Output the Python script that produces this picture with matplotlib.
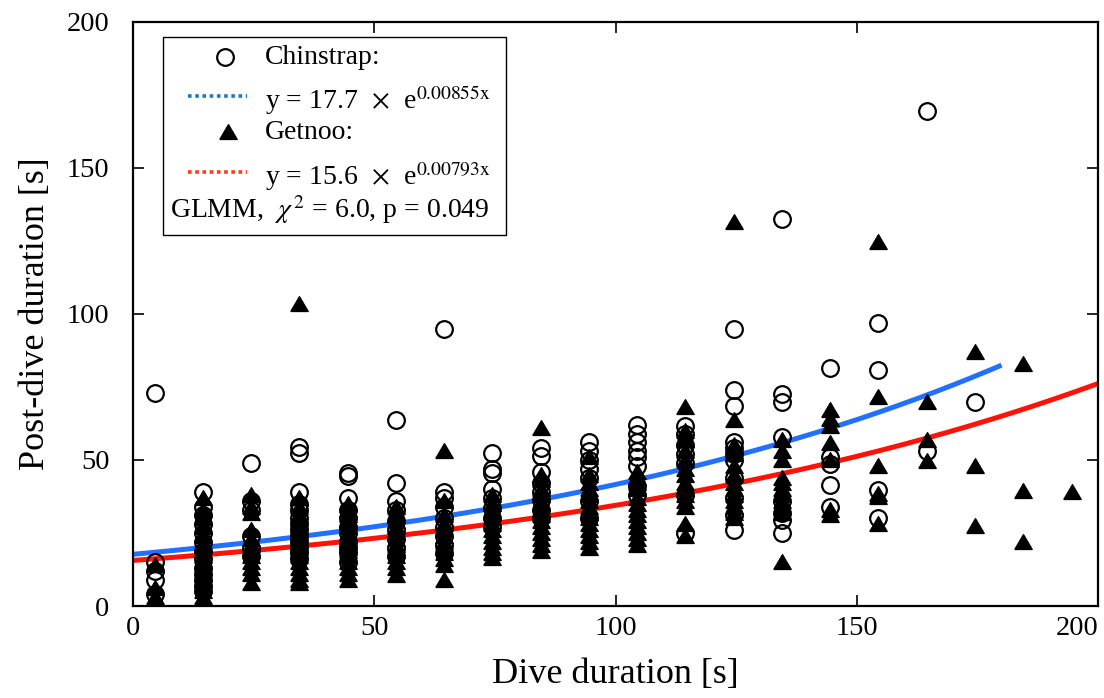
import matplotlib.pyplot as plt
import numpy as np

plt.rcParams['font.family'] = ['Liberation Serif', 'DejaVu Serif']
plt.rcParams['mathtext.fontset'] = 'stix'

# bin centres of dive duration [s]
bin_x = [4.5, 14.5, 24.5, 34.5, 44.5, 54.5, 64.5, 74.5, 84.5, 94.5,
         104.5, 114.5, 124.5, 134.5, 144.5, 154.5, 164.5, 174.5, 184.5, 194.5]

# post-dive durations [s] per bin
chin_y = [
    [73, 15, 12, 9, 4],
    [39, 34, 31, 28, 25, 22, 19, 16, 13, 11, 9, 7, 5],
    [49, 36, 33, 24, 20, 17],
    [54.5, 52.5, 39, 35, 33, 30, 28, 26, 24, 22, 20, 18, 16],
    [45.5, 44.5, 37, 33, 30, 27, 25, 22, 20, 18, 15],
    [63.7, 42, 36, 33, 29, 26, 23, 20, 17],
    [95, 39, 37, 34, 30, 27, 24, 21, 18],
    [52.4, 47, 45.5, 40, 37, 33.5, 30, 27],
    [54, 51.5, 46, 42, 39, 36.3, 33, 30],
    [56, 53, 50, 47, 44, 36, 30],
    [62, 59, 56, 53, 51, 48, 41, 38],
    [61.5, 59, 55, 52, 49, 38, 25],
    [95, 74, 68.5, 56, 54, 52, 50, 44, 37, 31, 26],
    [132.5, 72.5, 70, 58, 36, 32, 29.5, 25],
    [81.5, 51, 48.5, 41.5, 34],
    [97, 80.8, 39.7, 30],
    [169.6, 53],
    [70],
    [],
    [],
]
getnoo_y = [
    [14, 6, 3, 1],
    [37, 33, 30, 27, 24, 21, 19, 17, 15, 13, 11, 9, 7, 5, 3, 1.5],
    [38, 34, 32, 26, 23, 21, 19, 17, 15, 13, 11, 8],
    [103.5, 37, 34, 31, 29, 27, 25, 23, 21, 19, 17, 15, 13, 11, 9, 8],
    [35, 33, 31, 29, 27, 25, 23, 21, 19, 17, 15, 13, 11, 9],
    [34, 31, 29, 27, 25, 23, 21, 19, 17, 15, 13, 10.5],
    [53, 36, 31, 28, 26, 24, 22, 20, 18, 16, 14, 9],
    [38, 35, 32, 30, 28, 26, 24, 22, 20, 18, 16.5],
    [61, 45, 43, 40, 38, 35, 33, 31, 29, 27, 25, 23, 21, 19],
    [51, 45, 42, 40, 38, 36, 34, 32, 30, 28, 26, 24, 22, 20],
    [46, 44, 42, 40, 37, 35, 33, 31, 29, 27, 25, 23, 21],
    [68, 60, 57, 53, 50, 47, 45, 42, 40, 38, 36, 34, 28, 24],
    [131.5, 63.7, 55, 52, 48, 45, 42, 40, 38, 36, 34, 32, 30],
    [57, 53, 50, 44, 42, 40, 38, 36, 34, 32, 15],
    [67, 64, 61.5, 55.8, 50, 33, 31],
    [124.5, 71.5, 48, 38.5, 37.5, 28],
    [70, 57, 49.5],
    [87, 48, 27.5],
    [83, 39.5, 22],
    [39],
]

# fitted models from the figure
chin_a, chin_b, chin_xmax = 17.7, 0.00855, 180
getnoo_a, getnoo_b, getnoo_xmax = 15.6, 0.00793, 200

ticks = [0, 50, 100, 150, 200]

tri = [(-1, -0.8), (1, -0.8), (0, 0.9), (-1, -0.8)]

fig = plt.figure(figsize=(11.04, 6.98), dpi=100)
ax = fig.add_axes([0.1205, 0.1318, 0.8741, 0.8367])

xc = np.linspace(0, chin_xmax, 300)
xg = np.linspace(0, getnoo_xmax, 300)
ax.plot(xc, chin_a * np.exp(chin_b * xc), color='#2170ff', lw=3.6, zorder=2, solid_capstyle='butt')
ax.plot(xg, getnoo_a * np.exp(getnoo_b * xg), color='#ff1208', lw=3.6, zorder=2, solid_capstyle='butt')

cx = [x for x, ys in zip(bin_x, chin_y) for _ in ys]
cy = [y for ys in chin_y for y in ys]
gx = [x for x, ys in zip(bin_x, getnoo_y) for _ in ys]
gy = [y for ys in getnoo_y for y in ys]
ax.plot(gx, gy, ls='none', marker=tri, ms=12.5, color='black', zorder=3)
ax.plot(cx, cy, ls='none', marker='o', ms=12, mfc='none', mec='black', mew=1.6, zorder=4)

ax.set_xlim(0, 200)
ax.set_ylim(0, 200)
ax.set_xticks(ticks, [str(t) for t in ticks])
ax.set_yticks(ticks, [str(t) for t in ticks])
ax.get_xticklabels()[-1].set_horizontalalignment('right')
ax.tick_params(direction='in', length=8, width=1.2, top=True, right=True, labelsize=20.5)
ax.tick_params(axis='y', pad=17)
ax.tick_params(axis='x', pad=7)
for s in ax.spines.values():
    s.set_linewidth(1.6)

ax.set_xlabel('Dive duration [s]', fontsize=26)
ax.set_ylabel('Post-dive duration [s]', fontsize=26)
ax.xaxis.set_label_coords(0.5, -0.089)
ax.yaxis.set_label_coords(-0.084, 0.5)

# legend box drawn by hand
tr = ax.transAxes
ax.add_patch(plt.Rectangle((0.0311, 0.635), 0.3554, 0.339, transform=tr, fill=False,
                           lw=1.0, edgecolor='black', zorder=5))
ax.plot([0.0953], [0.940], marker='o', ms=12, mfc='none', mec='black', mew=1.6, transform=tr, zorder=6)
ax.plot([0.0984], [0.812], marker=tri, ms=12.5, color='black', transform=tr, zorder=6)
ax.plot([0.057, 0.118], [0.873, 0.873], color='#1a7ac6', lw=2.6, ls=(0, (1, 1)), transform=tr, zorder=6)
ax.plot([0.057, 0.118], [0.743, 0.743], color='#ff3a14', lw=2.6, ls=(0, (1, 1)), transform=tr, zorder=6)

fs = 20
ax.text(0.137, 0.940, 'Chinstrap:', fontsize=fs, transform=tr, va='center', zorder=6)
ax.text(0.137, 0.866, r'y = 17.7 $\,\times\,$ e$^{\mathrm{0.00855x}}$', fontsize=fs, transform=tr, va='center', zorder=6)
ax.text(0.137, 0.810, 'Getnoo:', fontsize=fs, transform=tr, va='center', zorder=6)
ax.text(0.137, 0.736, r'y = 15.6 $\,\times\,$ e$^{\mathrm{0.00793x}}$', fontsize=fs, transform=tr, va='center', zorder=6)
ax.text(0.038, 0.678, r'GLMM,  $\chi^{\,2}$ = 6.0, p = 0.049', fontsize=fs, transform=tr, va='center', zorder=6)

fig.savefig('out.png', dpi=100)
